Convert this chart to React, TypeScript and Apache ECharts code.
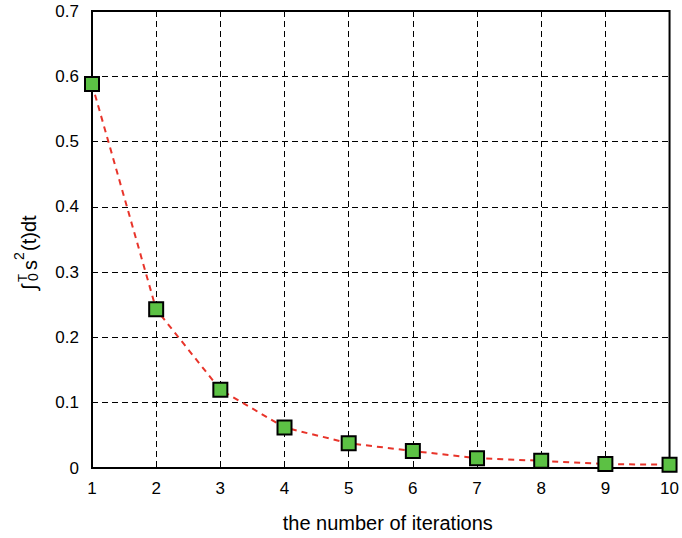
import React, { useEffect, useRef } from "react";
import * as echarts from "echarts";

// Residual energy after each iteration
const iterations = [1, 2, 3, 4, 5, 6, 7, 8, 9, 10];
const energy = [0.588, 0.243, 0.12, 0.062, 0.038, 0.026, 0.015, 0.011, 0.006, 0.005];

const xTitle = "the number of iterations";

export default function App() {
  const ref = useRef<HTMLDivElement>(null);

  useEffect(() => {
    if (!ref.current) return;
    const chart = echarts.init(ref.current, undefined, { renderer: "svg" });
    const font = "'Liberation Sans', Arial, sans-serif";
    const gridLine = { show: true, lineStyle: { color: "#000", type: [6, 4] as any, width: 1 } };
    const t = (text: string, x: number, y: number, size: number) => ({
      type: "text",
      x,
      y,
      style: { text, font: `${size}px ${font}`, fill: "#000", textVerticalAlign: "middle" },
    });

    chart.setOption({
      animation: false,
      backgroundColor: "#fff",
      grid: {
        left: 92,
        top: 11,
        right: 7,
        bottom: 70,
        show: true,
        borderColor: "#000",
        borderWidth: 2,
        backgroundColor: "transparent",
      },
      xAxis: {
        type: "value",
        min: 1,
        max: 10,
        interval: 1,
        name: xTitle,
        nameLocation: "middle",
        nameGap: 45,
        nameTextStyle: { color: "#000", fontSize: 20, fontFamily: font, padding: [0, 0, 0, 14] },
        axisLine: { show: true, lineStyle: { color: "#000", width: 2 } },
        axisTick: { show: false },
        axisLabel: { color: "#000", fontSize: 17, fontFamily: font, margin: 12 },
        splitLine: gridLine,
      },
      yAxis: {
        type: "value",
        min: 0,
        max: 0.7,
        interval: 0.1,
        axisLine: { show: true, lineStyle: { color: "#000", width: 2 } },
        axisTick: { show: false },
        axisLabel: { color: "#000", fontSize: 17, fontFamily: font, margin: 13 },
        splitLine: gridLine,
      },
      graphic: [
        {
          // ∫_0^T s^2(t) dt, written upward along the left side
          type: "group",
          x: 29,
          y: 290,
          rotation: Math.PI / 2,
          children: [
            t("∫", 0, 0, 20),
            t("T", 8, -7, 13),
            t("0", 9, 4, 14),
            t("s", 20, 1, 20),
            t("2", 30, -10, 14),
            t("(t)dt", 39, 0, 20),
          ],
        },
      ],
      series: [
        {
          type: "line",
          data: iterations.map((x, i) => [x, energy[i]]),
          symbol: "rect",
          symbolSize: 14,
          itemStyle: { color: "#5cc144", borderColor: "#000", borderWidth: 2 },
          lineStyle: { color: "#e8342a", width: 2, type: [6, 5] as any },
          z: 5,
        },
      ],
    });
    return () => chart.dispose();
  }, []);

  return <div ref={ref} style={{ width: 682, height: 538, position: "absolute", left: 0, top: 0 }} />;
}
